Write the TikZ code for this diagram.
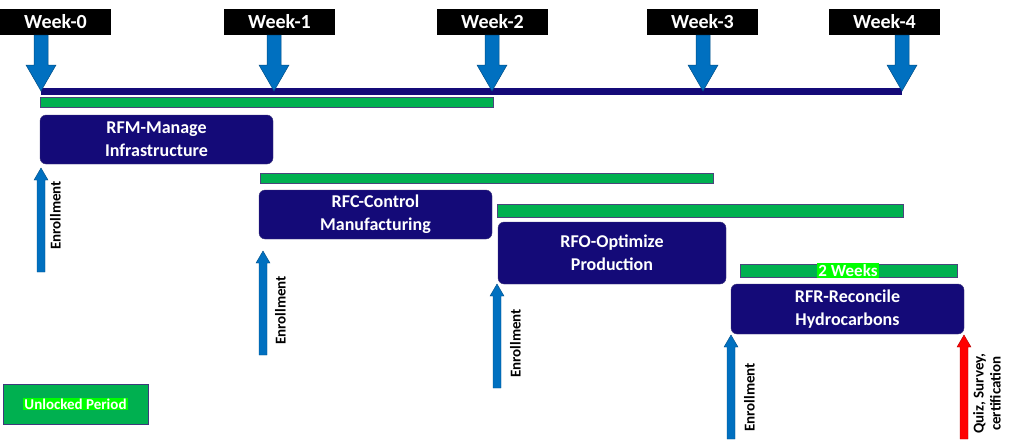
\documentclass[tikz,border=0pt]{standalone}
\usepackage{fontspec}
\setmainfont{Carlito}
\definecolor{navy}{HTML}{140A78}
\definecolor{ablue}{HTML}{0070C0}
\definecolor{gbar}{HTML}{00B050}
\definecolor{glow}{HTML}{00FF00}
\begin{document}
\begin{tikzpicture}[x=1pt,y=-1pt,font=\bfseries,
 wk/.style={fill=black,text=white,minimum width=111pt,minimum height=26pt,inner sep=0pt,font=\bfseries\fontsize{20}{20}\selectfont},
 box/.style={fill=navy,draw=navy!60!gray,rounded corners=6pt,text=white,align=center,inner sep=0pt,font=\bfseries\fontsize{18}{23}\selectfont},
 gb/.style={fill=gbar,draw=navy!50!gray,line width=0.6pt},
 lab/.style={rotate=90,anchor=north west,inner sep=0pt,font=\bfseries\fontsize{15}{17}\selectfont,align=center},
 down/.pic={\fill[ablue,draw=ablue!70!black,line width=0.5pt] (-7,0)--(7,0)--(7,30)--(15,30)--(0,56)--(-15,30)--(-7,30)--cycle;},
 up/.pic={\fill[ablue,draw=ablue!70!black,line width=0.4pt] (-4,0)--(4,0)--(4,-92)--(7,-92)--(0,-104)--(-7,-92)--(-4,-92)--cycle;},
 upred/.pic={\fill[red,draw=red!70!black,line width=0.4pt] (-4,0)--(4,0)--(4,-92)--(7,-92)--(0,-104)--(-7,-92)--(-4,-92)--cycle;}]
\useasboundingbox (0,0) rectangle (1024,439);
% weeks
\node[wk] (w0) at (55.5,22) {Week-0};
\node[wk] (w1) at (279.5,22) {Week-1};
\node[wk] (w2) at (492.5,22) {Week-2};
\node[wk] (w3) at (702.5,22) {Week-3};
\node[wk] (w4) at (884.5,22) {Week-4};
\fill[navy] (41,88) rectangle (902,95);
\pic at (41,35) {down}; \pic at (274,35) {down}; \pic at (492,35) {down};
\pic at (703,35) {down}; \pic at (902,35) {down};
% bars
\draw[gb] (40,97) rectangle (493,107);
\draw[gb] (260,173) rectangle (713,183);
\draw[gb] (497,204) rectangle (903,217);
\draw[gb] (740,264) rectangle (957,277);
\node[fill=glow,text=white,inner sep=1pt,font=\bfseries\fontsize{17}{17}\selectfont] (tw) at (848,270.5) {2 Weeks};
% boxes
\node[box,minimum width=233pt,minimum height=49pt] (rfm) at (156.5,139.5) {RFM-Manage\\Infrastructure};
\node[box,minimum width=233pt,minimum height=49pt] (rfc) at (375.5,214.5) {RFC-Control\\Manufacturing};
\node[box,minimum width=228pt,minimum height=62pt] (rfo) at (612,253) {RFO-Optimize\\Production};
\node[box,minimum width=233pt,minimum height=50pt] (rfr) at (847.5,309) {RFR-Reconcile\\Hydrocarbons};
% enrollment arrows
\pic at (41,272) {up}; \node[lab] (e1) at (50,250) {Enrollment};
\pic at (263,355) {up}; \node[lab] (e2) at (275,345) {Enrollment};
\pic at (497,388) {up}; \node[lab] (e3) at (510,378) {Enrollment};
\pic at (731,439) {up}; \node[lab] (e4) at (744,432) {Enrollment};
\pic at (964,439) {upred}; \node[lab] (q) at (973,434) {Quiz, Survey,\\certification};
% legend
\node[fill=gbar,draw=navy!60!gray,minimum width=145pt,minimum height=40pt] (leg) at (75.5,404) {};
\node[fill=glow,text=white,inner sep=1pt,font=\bfseries\fontsize{15}{15}\selectfont] at (leg) {Unlocked Period};
\end{tikzpicture}
\end{document}
